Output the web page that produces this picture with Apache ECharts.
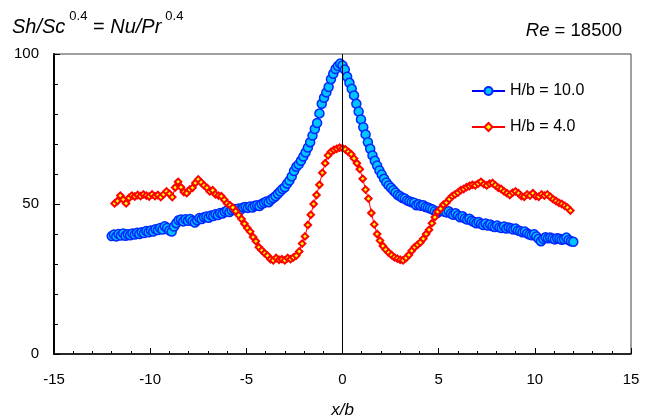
<!DOCTYPE html>
<html>
<head>
<meta charset="utf-8">
<script src="https://cdn.jsdelivr.net/npm/echarts@6/dist/echarts.min.js"></script>
<style>
html,body{margin:0;padding:0;background:#fff;}
#chart{width:649px;height:418px;}
</style>
</head>
<body>
<div id="chart"></div>
<script>
// x/b sampling grids of the two data sets
const blueStart = -12.0, blueStep = 0.12;
const redStart = -11.85, redStep = 0.15;

// H/b = 10.0  (Sh/Sc^0.4), x/b from -12 to 12 every 0.12
const blueValues = [
  39.3, 39.8, 39.2, 40.0, 39.5, 40.2, 39.4, 39.9, 39.6, 40.2,
  39.8, 40.4, 40.0, 40.6, 40.3, 41.0, 40.6, 41.2, 40.8, 41.6,
  41.3, 42.0, 41.5, 42.6, 42.0, 41.2, 40.8, 42.5, 43.6, 44.6,
  44.8, 44.2, 44.9, 44.4, 45.0, 44.3, 43.8, 44.6, 45.3, 45.0,
  45.6, 45.8, 45.4, 46.2, 46.0, 46.6, 46.3, 47.0, 46.8, 47.4,
  47.8, 47.3, 47.9, 48.3, 48.0, 48.5, 48.2, 48.8, 49.0, 48.7,
  49.2, 48.8, 49.4, 49.6, 49.3, 50.0, 50.4, 50.8, 50.6, 51.4,
  52.0, 52.6, 53.4, 54.2, 55.0, 55.6, 56.8, 57.8, 59.2, 61.0,
  62.4, 63.2, 64.4, 65.8, 67.2, 68.8, 70.6, 72.8, 75.0, 77.0,
  80.2, 83.4, 85.4, 87.2, 89.0, 91.6, 93.4, 95.0, 96.0, 96.8,
  96.2, 94.8, 92.4, 90.4, 88.4, 86.2, 83.4, 80.8, 78.2, 75.6,
  73.2, 70.6, 68.4, 66.2, 64.4, 62.8, 61.2, 59.8, 58.4, 57.2,
  56.2, 55.4, 54.6, 53.8, 53.0, 52.6, 52.0, 51.8, 51.2, 50.9,
  50.6, 50.4, 49.6, 49.9, 49.4, 49.6, 49.0, 48.8, 48.5, 48.2,
  47.6, 47.0, 47.6, 48.0, 47.5, 47.2, 47.6, 46.8, 46.4, 46.9,
  46.2, 45.6, 45.9, 45.2, 44.8, 45.1, 44.4, 44.0, 43.6, 44.0,
  43.4, 43.0, 43.5, 42.8, 43.2, 42.6, 42.3, 42.8, 42.2, 42.0,
  42.5, 41.8, 42.2, 41.9, 41.5, 41.8, 41.2, 41.0, 40.6, 40.8,
  40.2, 39.8, 39.6, 39.9, 39.2, 38.4, 37.6, 38.4, 38.9, 38.6,
  38.8, 38.5, 38.2, 38.6, 38.4, 38.1, 38.3, 38.8, 38.0, 37.6,
  37.4
];

// H/b = 4.0, x/b from -11.85 to 11.85 every 0.15
const redValues = [
  50.2, 51.0, 52.8, 51.5, 50.2, 52.0, 52.8, 52.5, 53.0, 52.6,
  53.2, 52.8, 52.5, 53.2, 52.6, 53.0, 52.3, 53.2, 54.2, 53.4,
  52.3, 55.5, 57.4, 55.6, 54.0, 53.6, 54.8, 55.4, 57.0, 58.2,
  57.2, 56.2, 55.4, 54.2, 54.6, 53.2, 52.8, 52.6, 51.4, 50.2,
  49.6, 48.8, 47.6, 46.3, 45.0, 43.4, 42.0, 40.8, 39.0, 37.6,
  35.6, 34.6, 33.6, 32.8, 31.6, 31.2, 32.0, 31.4, 31.6, 31.2,
  32.0, 31.6, 32.2, 32.8, 34.2, 36.8, 39.2, 43.0, 46.4, 50.0,
  53.0, 56.4, 60.4, 63.6, 66.2, 67.4, 68.0, 68.4, 68.8, 68.6,
  68.2, 67.4, 66.6, 65.2, 63.6, 61.6, 58.4, 54.8, 51.8, 47.0,
  43.2, 40.0, 37.8, 36.0, 34.8, 33.8, 33.0, 32.2, 31.8, 31.4,
  31.2, 32.0, 33.0, 34.4, 35.6, 36.4, 37.2, 38.4, 40.0, 41.4,
  43.6, 45.6, 47.4, 48.4, 49.8, 50.4, 51.6, 52.6, 53.2, 53.8,
  54.6, 55.0, 55.6, 56.0, 56.4, 56.2, 56.8, 57.4, 56.6, 56.2,
  56.8, 57.0, 56.2, 55.4, 55.0, 54.2, 53.6, 53.0, 53.8, 54.2,
  53.6, 52.6, 52.4, 53.2, 52.8, 53.6, 52.6, 52.4, 53.2, 52.8,
  53.2, 52.4, 51.6, 51.0, 50.4, 50.0, 49.4, 48.8, 47.8
];

const seriesNames = ['H/b = 10.0', 'H/b = 4.0'];
const xTicks = [-15, -10, -5, 0, 5, 10, 15];
const yTicks = [0, 50, 100];

const blueData = blueValues.map((v, i) => [+(blueStart + i * blueStep).toFixed(2), v]);
const redData = redValues.map((v, i) => [+(redStart + i * redStep).toFixed(2), v]);

const FONT = '"Liberation Sans", Arial, sans-serif';
const chart = echarts.init(document.getElementById('chart'), null, {renderer: 'canvas'});

chart.setOption({
  animation: false,
  backgroundColor: '#ffffff',
  textStyle: {fontFamily: FONT, color: '#000'},
  grid: {
    left: 54, right: 18, top: 54, bottom: 64,
    outerBoundsMode: 'none', containLabel: false,
    show: true, borderColor: '#404040', borderWidth: 1, backgroundColor: 'transparent'
  },
  legend: {
    orient: 'vertical',
    left: 471, top: 83, padding: 0,
    itemWidth: 33, itemHeight: 10, itemGap: 20,
    textStyle: {fontFamily: FONT, fontSize: 16, color: '#000'},
    data: seriesNames
  },
  graphic: [
    {
      type: 'text', left: 12, top: 10,
      style: {
        text: '{i|Sh/Sc}{s|0.4}{n| = }{i|Nu/Pr}{s|0.4}',
        rich: {
          i: {fontFamily: FONT, fontSize: 20, fontStyle: 'italic', fill: '#000', verticalAlign: 'bottom', lineHeight: 27},
          n: {fontFamily: FONT, fontSize: 20, fill: '#000', verticalAlign: 'bottom', lineHeight: 27},
          s: {fontFamily: FONT, fontSize: 13, fill: '#000', verticalAlign: 'top', lineHeight: 27, padding: [0, 0, 0, 4]}
        }
      }
    },
    {
      type: 'text', right: 27, top: 21,
      style: {
        text: '{i|Re}{n| = 18500}',
        rich: {
          i: {fontFamily: FONT, fontSize: 18.5, fontStyle: 'italic', fill: '#000'},
          n: {fontFamily: FONT, fontSize: 18.5, fill: '#000'}
        }
      }
    }
  ],
  xAxis: {
    type: 'value', min: xTicks[0], max: xTicks[xTicks.length - 1], interval: 5,
    name: 'x/b', nameLocation: 'middle', nameGap: 48,
    nameTextStyle: {fontFamily: FONT, fontSize: 17, fontStyle: 'italic', color: '#000'},
    axisLine: {onZero: false, lineStyle: {color: '#000', width: 1.5}},
    axisTick: {inside: true, length: 6, lineStyle: {color: '#000', width: 1}},
    minorTick: {show: true, splitNumber: 5, length: 3, lineStyle: {color: '#000', width: 1}},
    splitLine: {show: false},
    axisLabel: {fontFamily: FONT, fontSize: 15, color: '#000', margin: 18}
  },
  yAxis: {
    type: 'value', min: yTicks[0], max: yTicks[yTicks.length - 1], interval: 50,
    axisLine: {show: true, onZero: false, lineStyle: {color: '#000', width: 2}},
    axisTick: {show: true, inside: true, length: 6, lineStyle: {color: '#000', width: 1}},
    minorTick: {show: true, splitNumber: 5, length: 4, lineStyle: {color: '#000', width: 1}},
    splitLine: {show: false},
    axisLabel: {fontFamily: FONT, fontSize: 15, color: '#000', margin: 15}
  },
  series: [
    {
      name: seriesNames[0], type: 'line', data: blueData,
      symbol: 'circle', symbolSize: 9, showAllSymbol: true,
      lineStyle: {color: '#0000ff', width: 1},
      itemStyle: {color: '#00c4ff', borderColor: '#0026ff', borderWidth: 1.5},
      z: 3,
      markLine: {
        silent: true, symbol: ['none', 'none'], label: {show: false},
        lineStyle: {color: '#000', width: 1, type: 'solid'},
        data: [{xAxis: 0}]
      }
    },
    {
      name: seriesNames[1], type: 'line', data: redData,
      symbol: 'diamond', symbolSize: 6.5, showAllSymbol: true,
      lineStyle: {color: '#ff0000', width: 1},
      itemStyle: {color: '#ffff00', borderColor: '#ff0000', borderWidth: 2},
      z: 4
    }
  ]
});
</script>
</body>
</html>
